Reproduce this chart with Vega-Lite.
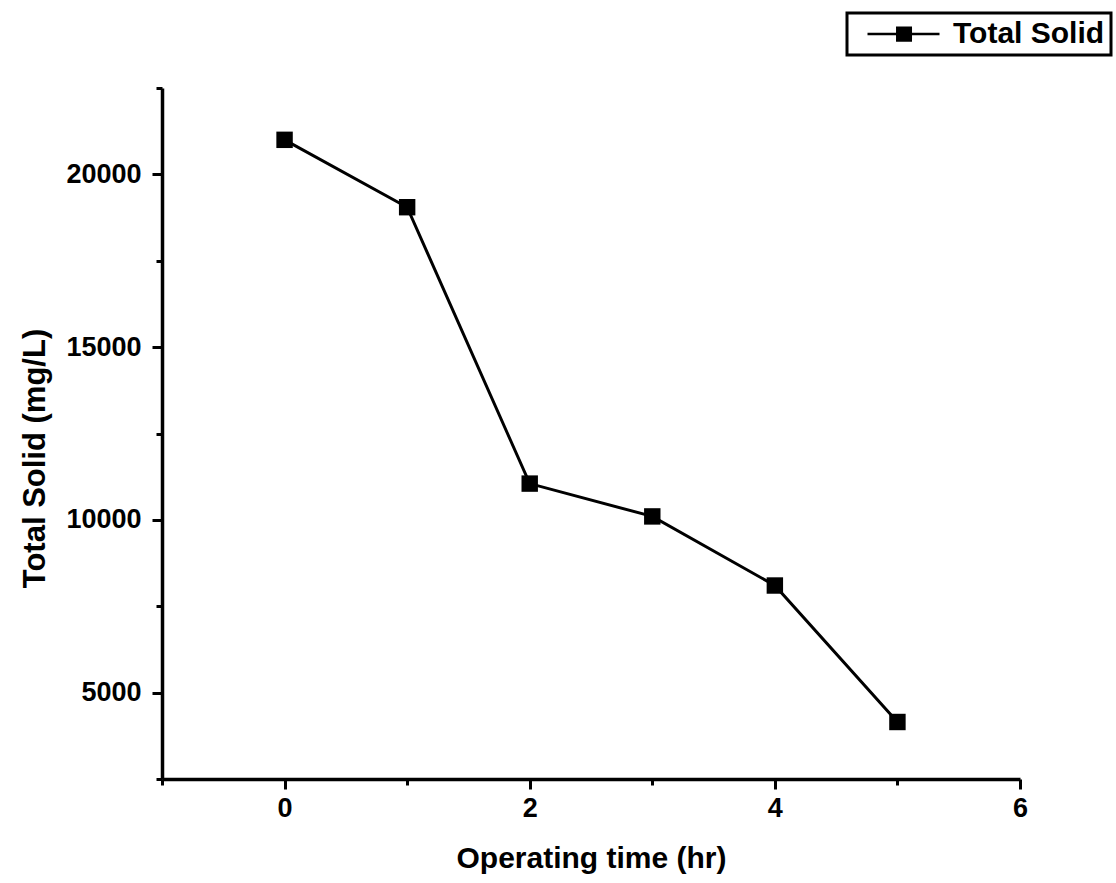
{
  "$schema": "https://vega.github.io/schema/vega-lite/v6.json",
  "width": 858,
  "height": 691,
  "autosize": "none",
  "padding": {"left": 162, "top": 88, "right": 96, "bottom": 104},
  "background": "white",
  "config": {
    "view": {"stroke": null},
    "font": "Liberation Sans",
    "axis": {
      "grid": false,
      "domainColor": "black",
      "domainWidth": 3.5,
      "tickColor": "black",
      "tickWidth": 3,
      "labelFont": "Liberation Sans",
      "labelFontWeight": "bold",
      "labelFontSize": 27,
      "labelColor": "black",
      "titleFont": "Liberation Sans",
      "titleFontWeight": "bold",
      "titleFontSize": 30,
      "titleColor": "black"
    },
    "legend": {
      "strokeColor": "black",
      "strokeWidth": 3,
      "fillColor": "white",
      "padding": 6
    }
  },
  "data": {
    "values": [
      {"time": 0, "ts": 21000, "series": "Total Solid"},
      {"time": 1, "ts": 19050, "series": "Total Solid"},
      {"time": 2, "ts": 11050, "series": "Total Solid"},
      {"time": 3, "ts": 10100, "series": "Total Solid"},
      {"time": 4, "ts": 8100, "series": "Total Solid"},
      {"time": 5, "ts": 4150, "series": "Total Solid"}
    ]
  },
  "encoding": {
    "x": {
      "field": "time",
      "type": "quantitative",
      "scale": {"domain": [-1, 6], "nice": false, "zero": false},
      "axis": {
        "title": "Operating time (hr)",
        "values": [-1, 0, 1, 2, 3, 4, 5, 6],
        "labelExpr": "datum.value % 2 === 0 ? datum.label : ''",
        "tickSize": {"condition": {"test": "datum.value % 2 === 0", "value": 10}, "value": 6},
        "labelPadding": 6,
        "titlePadding": 22,
        "labelFlush": false
      }
    },
    "y": {
      "field": "ts",
      "type": "quantitative",
      "scale": {"domain": [2500, 22500], "nice": false, "zero": false},
      "axis": {
        "title": "Total Solid (mg/L)",
        "titleFontSize": 31,
        "titleY": 370,
        "values": [2500, 5000, 7500, 10000, 12500, 15000, 17500, 20000, 22500],
        "format": "d",
        "labelExpr": "datum.value % 5000 === 0 ? datum.label : ''",
        "tickSize": {"condition": {"test": "datum.value % 5000 === 0", "value": 10}, "value": 6},
        "labelPadding": 11,
        "titlePadding": 14,
        "labelFlush": false
      }
    }
  },
  "layer": [
    {
      "mark": {"type": "line", "color": "black", "strokeWidth": 3}
    },
    {
      "mark": {"type": "point", "shape": "square", "filled": true, "size": 270, "opacity": 1},
      "encoding": {
        "color": {
          "field": "series",
          "type": "nominal",
          "scale": {"range": ["black"]},
          "legend": {
            "title": null,
            "orient": "none",
            "legendX": 685,
            "legendY": -75,
            "symbolType": "M-1,0H8.6M2.97,-0.85H4.77V0.85H2.97Z",
            "symbolSize": 225,
            "symbolStrokeColor": "black",
            "symbolFillColor": "black",
            "symbolStrokeWidth": 2.5,
            "symbolOffset": 7,
            "labelFont": "Liberation Sans",
            "labelFontWeight": "bold",
            "labelFontSize": 30,
            "labelColor": "black",
            "labelOffset": 63
          }
        }
      }
    }
  ]
}
